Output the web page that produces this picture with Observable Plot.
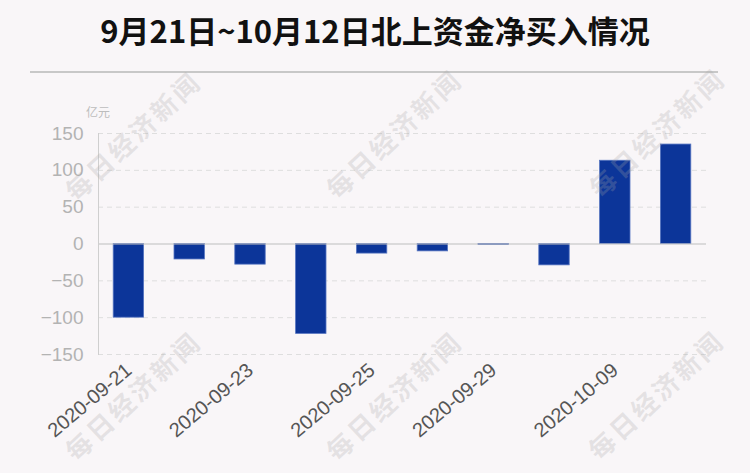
<!DOCTYPE html>
<html>
<head>
<meta charset="utf-8">
<script src="https://cdn.jsdelivr.net/npm/d3@7"></script>
<script src="https://cdn.jsdelivr.net/npm/@observablehq/plot@0.6"></script>
<style>
  html, body { margin: 0; padding: 0; background: #f9f6f8; }
  #wrap { position: relative; width: 750px; height: 473px; overflow: hidden; background: #f9f6f8; }
  #title { height: 60px; line-height: 60px; text-align: center; font-family: "Noto Sans CJK SC", sans-serif; font-weight: 700; font-size: 31px; color: #111; }
  #rule { margin: 11px 32px 0 30px; height: 2px; background: #c8c8c8; }
  #chart { margin-top: 7px; }
  #unit { position: absolute; left: 86px; top: 103px; font-family: "Noto Sans CJK SC", sans-serif; font-size: 12px; color: #bdbdbd; }
  .wm { position: absolute; white-space: nowrap; font-family: "Noto Sans CJK SC", serif; font-weight: 700; font-size: 26px; letter-spacing: 3px; color: rgba(165,165,165,0.25); transform: translate(-50%, -50%) rotate(-43deg); pointer-events: none; }
</style>
</head>
<body>
<div id="wrap">
  <div id="title">9月21日~10月12日北上资金净买入情况</div>
  <div id="rule"></div>
  <div id="chart"></div>
  <div id="unit">亿元</div>
</div>
<script>
const dates = ["2020-09-21","2020-09-22","2020-09-23","2020-09-24","2020-09-25","2020-09-28","2020-09-29","2020-09-30","2020-10-09","2020-10-12"];
const values = [-100, -21, -28, -122, -13, -10, -1.4, -29, 113, 135];
const yTicks = [-150, -100, -50, 0, 50, 100, 150];
const xTicks = dates.filter((d, i) => i % 2 === 0);
const watermarkText = "每日经济新闻";
const watermarkCenters = [[132,135],[393,133],[656,132],[132,395],[393,395],[655,394]];

const data = dates.map((d, i) => ({date: d, value: values[i]}));

const chart = Plot.plot({
  width: 750,
  height: 393,
  marginTop: 53,
  marginBottom: 119,
  marginLeft: 98,
  marginRight: 44,
  style: { background: "transparent", fontFamily: "'Liberation Sans', Arial, sans-serif" },
  x: { type: "band", domain: dates, paddingInner: 0.5, paddingOuter: 0.25, round: false, label: null },
  y: { domain: [-150, 150], label: null },
  marks: [
    Plot.ruleY(yTicks.filter(t => t !== 0), { stroke: "#dedede", strokeDasharray: "5,4", strokeWidth: 1 }),
    Plot.barY(data, { x: "date", y: "value", fill: "#0c3599", stroke: "#5473c0", strokeWidth: 0.8 }),
    Plot.ruleY([0], { stroke: "#bdbdbd", strokeWidth: 1.2 }),
    Plot.frame({ anchor: "left", stroke: "#cfcfcf" }),
    Plot.axisY({ ticks: yTicks, tickSize: 0, tickPadding: 15, fontSize: 19, fill: "#b3b3b3", label: null }),
    Plot.axisX({ ticks: xTicks, tickSize: 0, tickPadding: 13, tickRotate: -40, fontSize: 20, fill: "#555", label: null })
  ]
});
document.getElementById("chart").appendChild(chart);

const wrap = document.getElementById("wrap");
for (const [cx, cy] of watermarkCenters) {
  const el = document.createElement("div");
  el.className = "wm";
  el.textContent = watermarkText;
  el.style.left = cx + "px";
  el.style.top = cy + "px";
  wrap.appendChild(el);
}
</script>
</body>
</html>
